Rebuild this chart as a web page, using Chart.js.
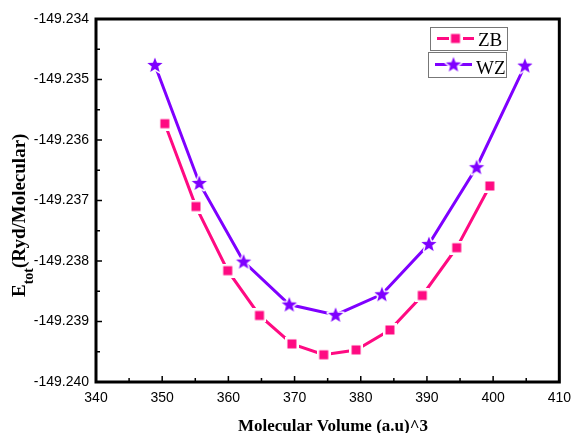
<!DOCTYPE html>
<html lang="en">
<head>
  <meta charset="UTF-8" />
  <title>Etot vs Molecular Volume</title>
  <script src="https://cdn.jsdelivr.net/npm/chart.js"></script>
  <style>
    body { margin: 0; background: #ffffff; }
    #wrap { width: 579px; height: 433px; position: relative; }
  </style>
</head>
<body>
  <div id="wrap"><canvas id="chart" width="579" height="433"></canvas></div>

  <script>
    // data
    const zbVolume = [350.4, 355.1, 359.9, 364.7, 369.6, 374.4, 379.3, 384.4, 389.3, 394.5, 399.5];
    const zbEnergy = [-149.23573, -149.23710, -149.23816, -149.23890, -149.23937, -149.23955,
                      -149.23947, -149.23914, -149.23857, -149.23778, -149.23676];
    const wzVolume = [348.9, 355.6, 362.3, 369.2, 376.2, 383.2, 390.3, 397.5, 404.8];
    const wzEnergy = [-149.23476, -149.23671, -149.23801, -149.23872, -149.23889,
                      -149.23855, -149.23772, -149.23645, -149.23477];
    const xTicks = [340, 350, 360, 370, 380, 390, 400, 410];
    const yTicks = [-149.240, -149.239, -149.238, -149.237, -149.236, -149.235, -149.234];

    const ZB_COLOR = '#ff0a82';
    const WZ_COLOR = '#7f00ff';

    // marker images with a white halo so the line shows a small gap
    function squareImg(color) {
      const c = document.createElement('canvas');
      c.width = 14; c.height = 14;
      const g = c.getContext('2d');
      g.fillStyle = '#fff';
      g.fillRect(0, 0, 14, 14);
      g.fillStyle = color;
      g.fillRect(2.5, 2.5, 9, 9);
      return c;
    }
    function starPath(g, cx, cy, ro, ri) {
      g.beginPath();
      for (let i = 0; i < 10; i++) {
        const r = i % 2 === 0 ? ro : ri;
        const a = -Math.PI / 2 + i * Math.PI / 5;
        g.lineTo(cx + r * Math.cos(a), cy + r * Math.sin(a));
      }
      g.closePath();
    }
    function starImg(color) {
      const c = document.createElement('canvas');
      c.width = 20; c.height = 20;
      const g = c.getContext('2d');
      starPath(g, 10, 10.5, 8, 3.4);
      g.lineWidth = 3;
      g.strokeStyle = '#fff';
      g.lineJoin = 'round';
      g.stroke();
      g.fillStyle = color;
      g.fill();
      return c;
    }
    const zbMarker = squareImg(ZB_COLOR);
    const wzMarker = starImg(WZ_COLOR);

    const toPoints = (xs, ys) => xs.map((x, i) => ({ x: x, y: ys[i] }));

    // frame, inward ticks, axis titles and the boxed legend
    const decor = {
      id: 'decor',
      beforeDatasetsDraw(chart) {
        const { ctx, chartArea: a, scales } = chart;
        ctx.save();
        ctx.strokeStyle = '#000';
        ctx.lineWidth = 1.5;
        // minor + major ticks, pointing into the plot
        for (let v = 340; v <= 410; v += 5) {
          const px = scales.x.getPixelForValue(v);
          const len = v % 10 === 0 ? 6 : 4;
          ctx.beginPath(); ctx.moveTo(px, a.bottom); ctx.lineTo(px, a.bottom - len); ctx.stroke();
        }
        for (let k = 0; k <= 12; k++) {
          const v = -149.240 + k * 0.0005;
          const py = scales.y.getPixelForValue(v);
          const len = k % 2 === 0 ? 6 : 4;
          ctx.beginPath(); ctx.moveTo(a.left, py); ctx.lineTo(a.left + len, py); ctx.stroke();
        }
        ctx.restore();
      },
      afterDraw(chart) {
        const { ctx, chartArea: a } = chart;
        ctx.save();
        ctx.strokeStyle = '#000';
        ctx.lineWidth = 3;
        ctx.strokeRect(a.left, a.top, a.right - a.left, a.bottom - a.top);

        // x title
        ctx.fillStyle = '#000';
        ctx.font = 'bold 17px "Liberation Serif"';
        ctx.textAlign = 'center';
        ctx.textBaseline = 'alphabetic';
        ctx.fillText('Molecular Volume (a.u)^3', 333, 431);

        // y title with subscript
        ctx.save();
        ctx.translate(25, 297);
        ctx.rotate(-Math.PI / 2);
        ctx.textAlign = 'left';
        ctx.font = 'bold 19px "Liberation Serif"';
        ctx.fillText('E', 0, 0);
        let w = ctx.measureText('E').width;
        ctx.font = 'bold 14px "Liberation Serif"';
        ctx.fillText('tot', w, 8);
        w += ctx.measureText('tot').width;
        ctx.font = 'bold 19px "Liberation Serif"';
        ctx.fillText('(Ryd/Molecular)', w, 0);
        ctx.restore();

        // legend, one box per entry like the original
        const entries = [
          { label: 'ZB', color: ZB_COLOR, img: zbMarker, box: [430, 27, 77, 23], base: 46 },
          { label: 'WZ', color: WZ_COLOR, img: wzMarker, box: [428, 52, 78, 25], base: 74 }
        ];
        entries.forEach(e => {
          const [bx, by, bw, bh] = e.box;
          ctx.fillStyle = '#fff';
          ctx.fillRect(bx, by, bw, bh);
          ctx.strokeStyle = '#777';
          ctx.lineWidth = 1;
          ctx.strokeRect(bx + 0.5, by + 0.5, bw, bh);
          const cy = by + bh / 2;
          ctx.strokeStyle = e.color;
          ctx.lineWidth = 3;
          ctx.beginPath(); ctx.moveTo(bx + 7, cy); ctx.lineTo(bx + 44, cy); ctx.stroke();
          ctx.drawImage(e.img, bx + 25.5 - e.img.width / 2, cy - e.img.height / 2);
          ctx.fillStyle = '#000';
          ctx.font = '19px "Liberation Serif"';
          ctx.textAlign = 'left';
          ctx.fillText(e.label, bx + 48, e.base);
        });
        ctx.restore();
      }
    };

    new Chart(document.getElementById('chart'), {
      type: 'line',
      data: {
        datasets: [
          {
            label: 'ZB',
            data: toPoints(zbVolume, zbEnergy),
            borderColor: ZB_COLOR,
            backgroundColor: ZB_COLOR,
            borderWidth: 3,
            pointStyle: zbMarker,
            tension: 0
          },
          {
            label: 'WZ',
            data: toPoints(wzVolume, wzEnergy),
            borderColor: WZ_COLOR,
            backgroundColor: WZ_COLOR,
            borderWidth: 3,
            pointStyle: wzMarker,
            tension: 0
          }
        ]
      },
      options: {
        responsive: false,
        animation: false,
        layout: { padding: { left: 0, top: 19, right: 12, bottom: 0 }, autoPadding: false },
        plugins: { legend: { display: false }, tooltip: { enabled: false } },
        scales: {
          x: {
            type: 'linear',
            min: 340,
            max: 410,
            afterFit: s => { s.height = 51; },
            afterBuildTicks: s => { s.ticks = xTicks.map(v => ({ value: v })); },
            grid: { display: false, drawTicks: false },
            border: { display: false },
            ticks: {
              padding: 8,
              color: '#000',
              font: { family: '"Liberation Sans"', size: 14 },
              maxRotation: 0
            }
          },
          y: {
            min: -149.240,
            max: -149.234,
            afterFit: s => { s.width = 96; },
            afterBuildTicks: s => { s.ticks = yTicks.map(v => ({ value: v })); },
            grid: { display: false, drawTicks: false },
            border: { display: false },
            ticks: {
              padding: 7,
              color: '#000',
              font: { family: '"Liberation Sans"', size: 14 },
              callback: v => v.toFixed(3)
            }
          }
        }
      },
      plugins: [decor]
    });
  </script>
</body>
</html>
